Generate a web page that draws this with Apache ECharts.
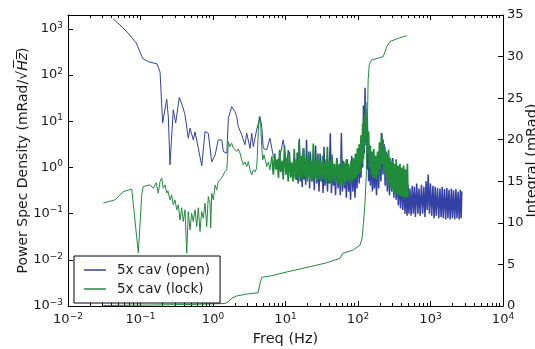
<!DOCTYPE html>
<html>
<head>
<meta charset="utf-8">
<script src="https://cdn.jsdelivr.net/npm/echarts@6/dist/echarts.min.js"></script>
<style>
  html, body { margin: 0; padding: 0; background: #fff; }
  #chart { width: 535px; height: 349px; }
</style>
</head>
<body>
<div id="chart"></div>
<script>
// power spectral density, cavity open: [freq Hz, mRad/sqrt(Hz)]
var openLow = [
  [0.042, 1650], [0.052, 1220], [0.067, 820], [0.087, 500], [0.108, 225], [0.131, 193],
  [0.169, 175], [0.186, 117], [0.202, 9.2], [0.23, 30], [0.242, 12.4], [0.255, 1.14],
  [0.283, 17.7], [0.306, 9.2], [0.343, 33], [0.382, 20.8], [0.411, 13.8], [0.456, 4.3],
  [0.482, 7.1], [0.535, 3.96], [0.565, 5.9], [0.627, 2.6], [0.70, 1.08], [0.776, 6.0],
  [0.861, 5.5], [0.96, 1.32], [1.07, 1.87], [1.18, 3.96], [1.32, 3.96], [1.39, 2.21],
  [1.55, 2.04], [1.63, 11.7], [1.81, 20.8], [2.01, 16.2], [2.12, 12.6], [2.23, 7.7],
  [2.49, 5.1], [2.76, 3.1], [2.92, 5.5], [3.24, 2.6], [3.42, 5.5], [3.6, 2.83],
  [4.0, 6.5], [4.45, 12.6], [4.7, 7.7], [4.94, 2.6], [5.5, 2.4], [6.1, 4.3],
  [6.8, 1.72], [7.6, 1.24], [8.4, 1.72], [9.3, 3.96], [10.4, 1.14], [10.9, 2.4],
  [11.5, 1.05], [12.8, 0.75], [14.3, 0.54]
];
var openHigh = [
  [14.3, 0.54], [14.5, 2.1], [15, 0.45], [15.5, 4.2], [16, 0.5], [16.5, 1.6], [17, 0.38], [17.5, 2.6],
  [18, 0.55], [18.5, 1.4], [19, 0.42], [19.5, 4.0], [20, 0.6], [21, 1.8], [21.5, 0.35],
  [22, 2.2], [23, 0.5], [24, 1.5], [25, 0.32], [26, 3.0], [27, 0.45], [28, 1.3], [29, 0.3],
  [30, 2.0], [31, 0.5], [32, 1.1], [33, 0.28], [34, 2.8], [35, 0.4], [36.5, 1.5], [38, 0.3],
  [39, 1.2], [40, 0.45], [41.5, 5.5], [43, 0.28], [44.5, 1.3], [46, 0.4], [47.5, 1.0],
  [49, 0.25], [51, 1.6], [53, 0.35], [55, 1.1], [57, 0.25], [59, 5.6], [61, 0.3], [63, 1.4],
  [65, 0.35], [67, 1.2], [69, 0.22], [71, 1.5], [74, 0.3], [76, 0.9], [79, 0.2], [82, 1.8],
  [85, 0.3], [88, 1.2], [91, 0.22], [94, 1.5], [97, 0.35], [100, 2.0], [104, 0.45],
  [107, 3.0], [110, 0.6], [113, 5.0], [116, 1.0], [119, 22], [122, 2.0], [125, 53],
  [128, 3.5], [131, 12], [134, 0.9], [137, 6.0], [140, 0.5], [144, 3.0], [148, 0.4],
  [153, 2.0], [158, 0.3], [163, 1.6], [168, 0.35], [174, 1.0], [180, 0.25], [187, 1.5],
  [193, 0.35], [200, 3.0], [207, 0.5], [214, 5.5], [221, 0.7], [229, 3.2], [237, 0.4],
  [245, 2.2], [254, 0.3], [263, 1.8], [272, 0.25], [282, 1.4], [292, 0.3], [302, 1.6],
  [313, 0.22], [324, 0.9], [336, 0.2], [348, 0.7], [360, 0.15], [373, 0.6], [386, 0.13],
  [400, 0.5], [415, 0.12], [430, 0.45], [445, 0.1], [460, 0.4], [475, 0.09], [490, 0.42],
  [505, 0.1], [520, 0.35], [540, 0.09], [560, 0.4], [580, 0.1], [600, 0.38], [620, 0.085],
  [645, 0.45], [670, 0.1], [695, 0.35], [720, 0.09], [750, 0.42], [780, 0.1], [810, 0.38],
  [840, 0.085], [870, 0.5], [900, 0.12], [930, 0.7], [965, 0.1], [1000, 0.45], [1040, 0.09],
  [1080, 0.4], [1120, 0.08], [1160, 0.38], [1200, 0.09], [1250, 0.36], [1300, 0.08],
  [1350, 0.35], [1400, 0.085], [1450, 0.38], [1500, 0.08], [1560, 0.34], [1620, 0.075],
  [1680, 0.36], [1740, 0.08], [1800, 0.33], [1870, 0.075], [1940, 0.35], [2010, 0.08],
  [2080, 0.32], [2160, 0.075], [2240, 0.34], [2320, 0.08], [2400, 0.3], [2490, 0.075],
  [2580, 0.33], [2650, 0.08], [2700, 0.3]
];

// power spectral density, cavity locked
var lockLow = [
  [0.0307, 0.169], [0.0445, 0.199], [0.058, 0.30], [0.0757, 0.339], [0.0796, 0.327],
  [0.0933, 0.0142], [0.104, 0.255], [0.109, 0.386], [0.135, 0.42], [0.150, 0.356],
  [0.164, 0.465], [0.176, 0.278], [0.186, 0.495], [0.196, 0.586], [0.206, 0.356],
  [0.218, 0.42], [0.23, 0.278], [0.239, 0.312], [0.255, 0.199], [0.269, 0.255],
  [0.283, 0.155], [0.299, 0.199], [0.316, 0.121], [0.332, 0.155], [0.351, 0.073],
  [0.37, 0.134], [0.389, 0.0675], [0.411, 0.121], [0.434, 0.014], [0.456, 0.111],
  [0.482, 0.0446], [0.508, 0.102], [0.535, 0.0675], [0.565, 0.121], [0.596, 0.0526],
  [0.627, 0.134], [0.662, 0.041], [0.698, 0.111], [0.734, 0.08], [0.776, 0.169],
  [0.819, 0.0526], [0.861, 0.234], [0.91, 0.169], [0.93, 0.049], [0.96, 0.278],
  [1.01, 0.199], [1.07, 0.42], [1.125, 0.327], [1.18, 0.495], [1.25, 0.465], [1.32, 0.596],
  [1.39, 0.635], [1.46, 0.80], [1.55, 0.89], [1.585, 1.61], [1.63, 3.6], [1.71, 2.83],
  [1.81, 3.36], [1.9, 2.66], [2.01, 2.83], [2.12, 2.21], [2.23, 2.53], [2.36, 2.04],
  [2.49, 1.46], [2.62, 1.14], [2.76, 1.32], [2.92, 1.05], [3.07, 1.34], [3.24, 0.89],
  [3.42, 0.69], [3.6, 0.89], [3.8, 0.80], [4.0, 0.97], [4.08, 1.72], [4.22, 6.5],
  [4.35, 12.6], [4.55, 7.7], [4.7, 2.83], [4.85, 1.46], [5.05, 1.87], [5.3, 1.39],
  [5.5, 1.05], [5.8, 1.32], [6.1, 0.89], [6.45, 1.72]
];
var lockHigh = [
  [6.45, 1.72], [6.8, 0.7], [7.1, 2.0], [7.4, 0.9], [7.7, 1.5], [8.0, 0.6], [8.3, 2.4], [8.6, 0.8],
  [9.0, 1.4], [9.3, 0.55], [9.7, 3.0], [10.1, 0.7], [10.5, 1.6], [10.9, 0.5], [11.3, 2.2],
  [11.8, 0.6], [12.2, 1.3], [12.7, 0.5], [13.2, 2.5], [13.7, 0.55], [14.2, 1.5], [14.8, 0.5],
  [15.4, 3.5], [16, 0.6], [16.6, 1.8], [17.2, 0.55], [17.9, 2.6], [18.6, 0.6], [19.3, 1.6],
  [20, 0.5], [20.8, 2.2], [21.6, 0.55], [22.4, 1.4], [23.3, 0.5], [24.2, 3.3], [25.1, 0.6],
  [26, 1.5], [27, 0.5], [28, 2.0], [29, 0.55], [30.2, 1.4], [31.3, 0.5], [32.5, 1.8],
  [33.8, 0.55], [35, 1.3], [36.4, 0.45], [37.8, 2.8], [39.2, 0.5], [40.7, 1.4], [42.2, 0.45],
  [43.8, 1.9], [45.5, 0.5], [47.2, 1.2], [49, 0.45], [51, 1.5], [53, 0.45], [55, 1.2],
  [57, 0.42], [59, 1.6], [61.5, 0.45], [64, 1.3], [66.5, 0.42], [69, 1.5], [71.5, 0.5],
  [74, 1.2], [77, 0.45], [80, 1.4], [83, 0.5], [86, 1.6], [89, 0.55], [92, 2.0], [95, 0.6],
  [98, 2.6], [101, 0.7], [104, 3.2], [107, 0.8], [110, 5.0], [113, 1.2], [116, 9.0],
  [119, 1.5], [122, 14], [125, 3.0], [128, 26], [131, 4.0], [134, 12], [137, 2.0],
  [140, 6.0], [144, 1.0], [148, 3.0], [152, 0.7], [156, 2.2], [160, 0.6], [165, 2.5],
  [170, 0.6], [175, 1.8], [180, 0.55], [186, 2.2], [192, 0.7], [198, 3.5], [204, 0.9],
  [210, 5.6], [216, 1.2], [222, 4.0], [228, 0.8], [235, 2.8], [242, 0.6], [249, 2.0],
  [256, 0.45], [264, 2.4], [272, 0.4], [280, 1.6], [289, 0.35], [298, 1.4], [307, 0.3],
  [316, 1.2], [326, 0.28], [336, 1.5], [346, 0.26], [357, 1.1], [368, 0.25], [379, 1.2],
  [390, 0.24], [402, 1.0], [414, 0.23], [427, 1.1], [440, 0.22], [453, 0.9], [466, 0.23],
  [480, 1.2], [490, 0.22]
];

// cumulative integral of the locked spectrum (mRad, right axis)
var lockIntegral = [
  [0.0307, 0.06], [0.135, 0.12], [0.48, 0.18], [1.46, 0.3], [1.63, 0.52], [1.81, 0.93],
  [2.12, 1.2], [2.92, 1.44], [4.2, 1.6], [4.45, 2.73], [4.7, 3.45], [6.1, 3.6],
  [10.5, 4.1], [21.8, 4.73], [37, 5.2], [56.5, 5.74], [61.5, 6.34], [86, 6.74],
  [107, 7.34], [114, 8.2], [118, 9.7], [125, 12.4], [131, 16.4], [135, 22.4],
  [138, 27.2], [143, 29.0], [154, 29.6], [189, 29.8], [223, 30.0], [250, 31.2],
  [276, 31.8], [360, 32.2], [470, 32.5]
];

var seriesNames = ['5x cav (open)', '5x cav (lock)'];
var rightTicks = [0, 35, 5];

var FONT = 'DejaVu Sans';
var BLUE = '#3340a4';
var GREEN = '#1f8b3b';
var INK = '#1a1a1a';

function powLabel(v) {
  var l = Math.log(v) / Math.LN10;
  var e = Math.round(l);
  if (Math.abs(l - e) > 1e-6) return '';
  return '10{s|' + (e < 0 ? '\u2212' + (-e) : e) + '}';
}
var supRich = { s: { fontSize: 9, fontFamily: FONT, color: INK, padding: [0, 0, 7, 0] } };

// matplotlib style minor ticks (2..9 of each decade), placed on a log10 value axis
var minorTicks = [];
for (var d = -2; d < 4; d++) {
  for (var k = 2; k < 10; k++) minorTicks.push(d + Math.log(k) / Math.LN10);
}

function minorAxis(pos) {
  return {
    type: 'value', position: pos, min: -2, max: 4,
    axisLine: { show: false, onZero: false },
    axisTick: { inside: true, length: 3, customValues: minorTicks, lineStyle: { color: '#000' } },
    axisLabel: { show: false },
    splitLine: { show: false }
  };
}

function line(name, data, color, width, yIndex) {
  return {
    name: name, type: 'line', xAxisIndex: 0, yAxisIndex: yIndex || 0,
    data: data, symbol: 'none', showSymbol: false,
    lineStyle: { color: color, width: width }, itemStyle: { color: color }
  };
}

var myChart = echarts.init(document.getElementById('chart'));
var option = {
  animation: false,
  textStyle: { fontFamily: FONT },
  grid: { left: 68, right: 32, top: 15, bottom: 43, outerBoundsMode: 'none' },
  legend: {
    data: seriesNames,
    orient: 'vertical',
    left: 74, top: 256,
    icon: 'rect', itemWidth: 22, itemHeight: 1.5, itemGap: 5,
    padding: [7, 10, 7, 10],
    borderColor: '#000', borderWidth: 1, borderRadius: 0,
    backgroundColor: '#fff',
    textStyle: { fontSize: 13.5, color: INK, fontFamily: FONT, padding: [0, 0, 0, 6] }
  },
  xAxis: [
    {
      type: 'log', logBase: 10, min: 0.01, max: 10000, splitNumber: 6,
      name: 'Freq (Hz)', nameLocation: 'middle', nameGap: 24,
      nameTextStyle: { fontSize: 14.5, color: INK, fontFamily: FONT },
      axisLine: { onZero: false, lineStyle: { color: '#000' } },
      axisTick: { inside: true, length: 5, lineStyle: { color: '#000' } },
      axisLabel: { formatter: powLabel, rich: supRich, fontSize: 13, color: INK, margin: 6 },
      splitLine: { show: false }
    },
    {
      type: 'log', logBase: 10, min: 0.01, max: 10000, splitNumber: 6, position: 'top',
      axisLine: { onZero: false, lineStyle: { color: '#000' } },
      axisTick: { inside: true, length: 5, lineStyle: { color: '#000' } },
      axisLabel: { show: false },
      splitLine: { show: false }
    },
    minorAxis('bottom'),
    minorAxis('top')
  ],
  yAxis: [
    {
      type: 'log', logBase: 10, min: 0.001, max: 2000, splitNumber: 6, position: 'left',
      name: 'Power Spec Density (mRad/\u221A{i|H\u0305z\u0305})', nameLocation: 'middle',
      nameGap: 38, nameMoveOverlap: false,
      nameTextStyle: { fontSize: 14, color: INK, fontFamily: FONT,
        rich: { i: { fontSize: 14, fontStyle: 'italic', color: INK, fontFamily: FONT } } },
      axisLine: { onZero: false, lineStyle: { color: '#000' } },
      axisTick: { inside: true, length: 5, lineStyle: { color: '#000' } },
      axisLabel: { formatter: powLabel, rich: supRich, fontSize: 13, color: INK, margin: 5, showMaxLabel: false },
      splitLine: { show: false }
    },
    {
      type: 'value', min: rightTicks[0], max: rightTicks[1], interval: rightTicks[2], position: 'right',
      name: 'Integral (mRad)', nameLocation: 'middle', nameGap: 22, nameMoveOverlap: false,
      nameTextStyle: { fontSize: 14.5, color: INK, fontFamily: FONT },
      axisLine: { onZero: false, lineStyle: { color: '#000' } },
      axisTick: { inside: true, length: 5, lineStyle: { color: '#000' } },
      axisLabel: { fontSize: 13, color: INK, margin: 4 },
      splitLine: { show: false }
    }
  ],
  series: [
    line(seriesNames[0], openLow, BLUE, 1),
    line(seriesNames[0], openHigh, BLUE, 1.5),
    line(seriesNames[1], lockLow, GREEN, 1),
    line(seriesNames[1], lockHigh, GREEN, 1.7),
    line('integral', lockIntegral, GREEN, 1, 1)
  ]
};
myChart.setOption(option);
</script>
</body>
</html>
